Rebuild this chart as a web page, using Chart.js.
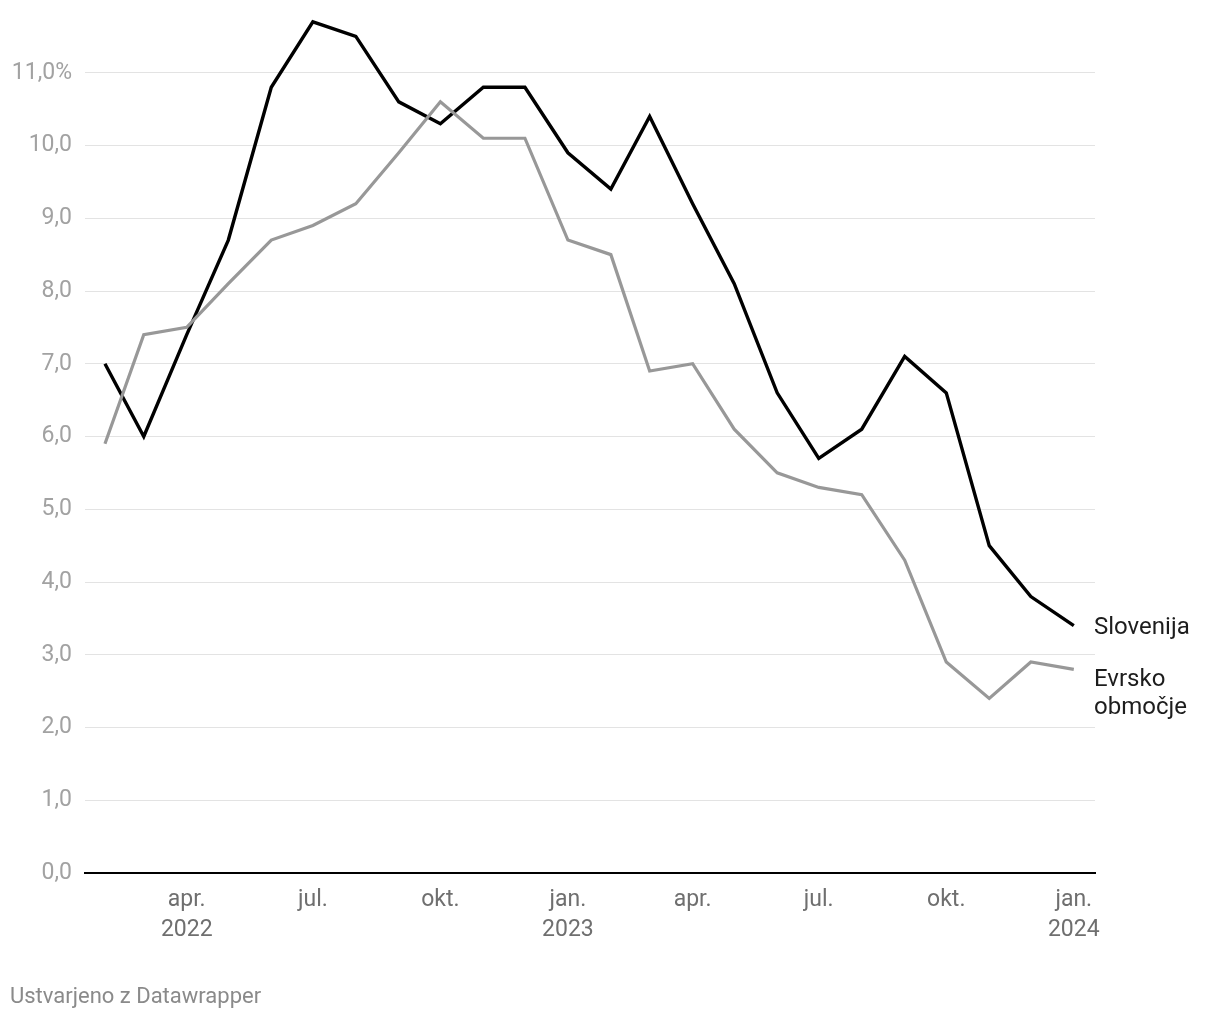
<!DOCTYPE html>
<html>
<head>
<meta charset="utf-8">
<script src="https://cdn.jsdelivr.net/npm/chart.js@4"></script>
<style>
  html, body { margin: 0; padding: 0; background: #fff; }
  #wrap { width: 1220px; height: 1020px; position: relative; }
</style>
</head>
<body>
<div id="wrap"><canvas id="chart"></canvas></div>
<script>
// mesečni podatki, feb. 2022 – jan. 2024 (prvi dan v mesecu)
const months = ['2022-02', '2022-03', '2022-04', '2022-05', '2022-06', '2022-07', '2022-08', '2022-09',
    '2022-10', '2022-11', '2022-12', '2023-01', '2023-02', '2023-03', '2023-04', '2023-05',
    '2023-06', '2023-07', '2023-08', '2023-09', '2023-10', '2023-11', '2023-12', '2024-01'];
const slovenija = [7.0, 6.0, 7.4, 8.7, 10.8, 11.7, 11.5, 10.6, 10.3, 10.8, 10.8, 9.9,
    9.4, 10.4, 9.2, 8.1, 6.6, 5.7, 6.1, 7.1, 6.6, 4.5, 3.8, 3.4];
const evrsko = [5.9, 7.4, 7.5, 8.1, 8.7, 8.9, 9.2, 9.9, 10.6, 10.1, 10.1, 8.7,
    8.5, 6.9, 7.0, 6.1, 5.5, 5.3, 5.2, 4.3, 2.9, 2.4, 2.9, 2.8];
const xTickMonths = ['2022-04', '2022-07', '2022-10', '2023-01', '2023-04', '2023-07', '2023-10', '2024-01'];
const xTickLabels = [['apr.', '2022'], ['jul.'], ['okt.'], ['jan.', '2023'], ['apr.'], ['jul.'], ['okt.'], ['jan.', '2024']];
const yTicks = [0, 1, 2, 3, 4, 5, 6, 7, 8, 9, 10, 11];

const FONT = 'Roboto, "Noto Sans", sans-serif';

// dnevi od 1. 2. 2022 (časovna os)
const start = Date.UTC(2022, 1, 1);
const dayOf = m => {
    const [yy, mm] = m.split('-').map(Number);
    return (Date.UTC(yy, mm - 1, 1) - start) / 86400000;
};
const xTickDays = xTickMonths.map(dayOf);
const toPoints = arr => arr.map((v, i) => ({ x: dayOf(months[i]), y: v }));

// oznake serij na desni + podpis
const labelsPlugin = {
    id: 'seriesLabels',
    afterDraw(chart) {
        const ctx = chart.ctx;
        const y = chart.scales.y;
        const lx = chart.chartArea.right - 1;
        ctx.save();
        ctx.font = '24px ' + FONT;
        ctx.fillStyle = '#1d1d1d';
        ctx.textAlign = 'left';
        ctx.textBaseline = 'middle';
        ctx.fillText('Slovenija', lx, y.getPixelForValue(slovenija[slovenija.length - 1]) + 2);
        const ey = y.getPixelForValue(evrsko[evrsko.length - 1]);
        ctx.fillText('Evrsko', lx, ey + 11);
        ctx.fillText('območje', lx, ey + 39);
        // podpis
        ctx.font = '22px ' + FONT;
        ctx.fillStyle = '#8a8a8a';
        ctx.fillText('Ustvarjeno z Datawrapper', 10, 997);
        ctx.restore();
    }
};

new Chart(document.getElementById('chart').getContext('2d'), {
    type: 'line',
    data: {
        datasets: [{
            label: 'Evrsko območje',
            data: toPoints(evrsko),
            borderColor: '#989898',
            borderWidth: 3.2,
            borderJoinStyle: 'miter',
            pointRadius: 0,
            fill: false,
            tension: 0
        }, {
            label: 'Slovenija',
            data: toPoints(slovenija),
            borderColor: '#000000',
            borderWidth: 3.4,
            borderJoinStyle: 'miter',
            pointRadius: 0,
            fill: false,
            tension: 0
        }]
    },
    options: {
        responsive: true,
        maintainAspectRatio: false,
        animation: false,
        layout: { padding: { top: 0, right: 125, bottom: 0, left: 0 } },
        plugins: {
            legend: { display: false },
            tooltip: { enabled: false }
        },
        scales: {
            x: {
                type: 'linear',
                min: -14.4,
                max: 714.3,
                afterBuildTicks: scale => { scale.ticks = xTickDays.map(v => ({ value: v })); },
                afterFit: scale => { scale.height = 147; scale.paddingLeft = 0; scale.paddingRight = 0; },
                grid: { display: false, drawTicks: false },
                border: { display: true, color: '#000000', width: 2 },
                ticks: {
                    autoSkip: false,
                    maxRotation: 0,
                    padding: 12,
                    color: '#6f6f6f',
                    font: { family: FONT, size: 23, lineHeight: 1.3 },
                    callback: value => xTickLabels[xTickDays.indexOf(value)]
                }
            },
            y: {
                min: 0,
                max: 12,
                afterBuildTicks: scale => { scale.ticks = yTicks.map(v => ({ value: v })); },
                afterFit: scale => { scale.width = 85; scale.paddingTop = 0; scale.paddingBottom = 0; },
                grid: { color: '#e3e3e3', lineWidth: 1, drawTicks: false },
                border: { display: false },
                ticks: {
                    padding: 13,
                    color: '#a2a2a2',
                    font: { family: FONT, size: 23 },
                    callback: value => value.toFixed(1).replace('.', ',') + (value === 11 ? '%' : '')
                }
            }
        }
    },
    plugins: [labelsPlugin]
});
</script>
</body>
</html>
